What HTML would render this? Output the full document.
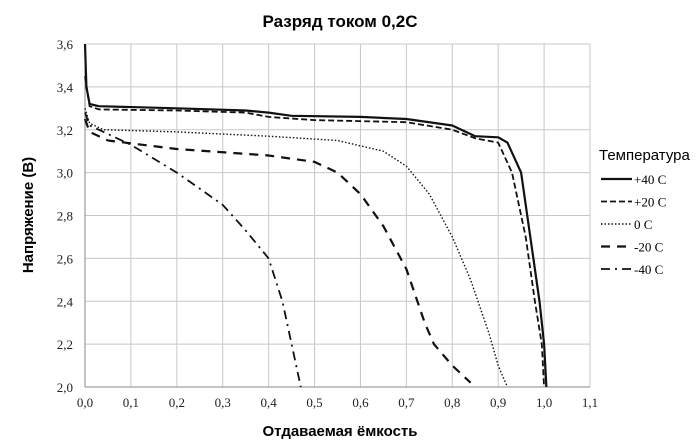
<!DOCTYPE html>
<html><head><meta charset="utf-8"><style>
body{margin:0;background:#fff;}
svg{display:block;font-family:"Liberation Serif",serif;}
</style></head><body>
<svg id="c" width="699" height="446">
<text x="340" y="27" font-family="Liberation Sans, sans-serif" font-weight="bold" font-size="17" text-anchor="middle">Разряд током 0,2C</text>
<text x="340" y="436" font-family="Liberation Sans, sans-serif" font-weight="bold" font-size="15" text-anchor="middle">Отдаваемая ёмкость</text>
<text transform="translate(33,215) rotate(-90)" font-family="Liberation Sans, sans-serif" font-weight="bold" font-size="15" text-anchor="middle">Напряжение (В)</text>
<g id="grid"></g><g id="series"></g><g id="legend"></g>
</svg>
<script>
const xTicks=[0,0.1,0.2,0.3,0.4,0.5,0.6,0.7,0.8,0.9,1.0,1.1];
const yTicks=[2.0,2.2,2.4,2.6,2.8,3.0,3.2,3.4,3.6];
const seriesNames=["+40 C","+20 C","0 C","-20 C","-40 C"];
const s40x=[0,0.003,0.01,0.03,0.2,0.35,0.4,0.45,0.6,0.7,0.8,0.85,0.9,0.92,0.95,0.97,0.99,1.0,1.005];
const s40y=[3.6,3.4,3.32,3.31,3.3,3.29,3.28,3.265,3.26,3.25,3.22,3.17,3.165,3.14,3.0,2.7,2.4,2.2,2.0];
const s20x=[0,0.01,0.03,0.2,0.35,0.4,0.5,0.7,0.8,0.85,0.9,0.93,0.96,0.98,0.995,1.0];
const s20y=[3.45,3.31,3.295,3.29,3.28,3.26,3.245,3.235,3.2,3.16,3.14,3.0,2.7,2.4,2.2,2.0];
const s0x=[0,0.01,0.04,0.2,0.4,0.55,0.65,0.7,0.75,0.8,0.84,0.88,0.9,0.92];
const s0y=[3.3,3.23,3.2,3.19,3.17,3.15,3.1,3.03,2.9,2.7,2.5,2.25,2.1,2.0];
const sm20x=[0,0.01,0.05,0.2,0.4,0.5,0.55,0.6,0.65,0.7,0.74,0.76,0.8,0.84];
const sm20y=[3.25,3.19,3.15,3.11,3.08,3.05,3.0,2.9,2.75,2.55,2.3,2.2,2.1,2.02];
const sm40x=[0,0.01,0.05,0.1,0.2,0.3,0.35,0.4,0.43,0.45,0.47];
const sm40y=[3.28,3.22,3.18,3.13,3.0,2.85,2.73,2.6,2.4,2.2,2.0];
const X0=85,X1=590,Y0=387,Y1=44;
const sx=v=>X0+(v-0)/(1.1)*(X1-X0);
const sy=v=>Y0-(v-2.0)/1.6*(Y0-Y1);
const NS="http://www.w3.org/2000/svg";
function mk(t,a,p){const e=document.createElementNS(NS,t);for(const k in a)e.setAttribute(k,a[k]);p.appendChild(e);return e;}
const g=document.getElementById('grid');
xTicks.forEach(v=>{
 const l=mk('line',{x1:sx(v),x2:sx(v),y1:Y1,y2:Y0,stroke:'#c8c8c8','stroke-width':1},g);
 
 
 const t=mk('text',{x:sx(v),y:Y0+20,'font-size':13,'text-anchor':'middle',fill:'#222'},g);t.textContent=v.toFixed(1).replace('.',',');
 
 
});
yTicks.forEach(v=>{
 const l=mk('line',{x1:X0,x2:X1,y1:sy(v),y2:sy(v),stroke:'#c8c8c8','stroke-width':1},g);
 
 
 const t=mk('text',{x:X0-12,y:sy(v)+5,'font-size':13,'text-anchor':'end',fill:'#222'},g);t.textContent=v.toFixed(1).replace('.',',');
 
 
});
mk('line',{x1:X0,x2:X0,y1:Y1,y2:Y0,stroke:'#888'},g);
mk('line',{x1:X0,x2:X1,y1:Y0,y2:Y0,stroke:'#888'},g);
const dashes=["","6,3","1.5,2","9,7","9,5,2,5"];
const widths=[2.2,1.8,1.4,2.2,1.8];
const data=[[s40x,s40y],[s20x,s20y],[s0x,s0y],[sm20x,sm20y],[sm40x,sm40y]];
const sg=document.getElementById('series');
data.forEach((d,i)=>{
 const p=d[0].map((x,j)=>sx(x).toFixed(1)+','+sy(d[1][j]).toFixed(1)).join(' ');
 const e=mk('polyline',{points:p,fill:'none',stroke:'#111','stroke-width':widths[i],'stroke-dasharray':dashes[i],'stroke-linejoin':'round'},sg);
 
 
});
const lg=document.getElementById('legend');
const lt=mk('text',{x:599,y:160,'font-size':15,'font-family':'Liberation Sans, sans-serif'},lg);lt.textContent='Температура';


seriesNames.forEach((n,i)=>{
 const y=179+i*22.5;
 const l=mk('line',{x1:601,x2:632,y1:y,y2:y,stroke:'#111','stroke-width':widths[i],'stroke-dasharray':dashes[i]},lg);
 
 
 const t=mk('text',{x:634,y:y+5,'font-size':13},lg);t.textContent=n;
 
 
});
</script>
</body></html>
